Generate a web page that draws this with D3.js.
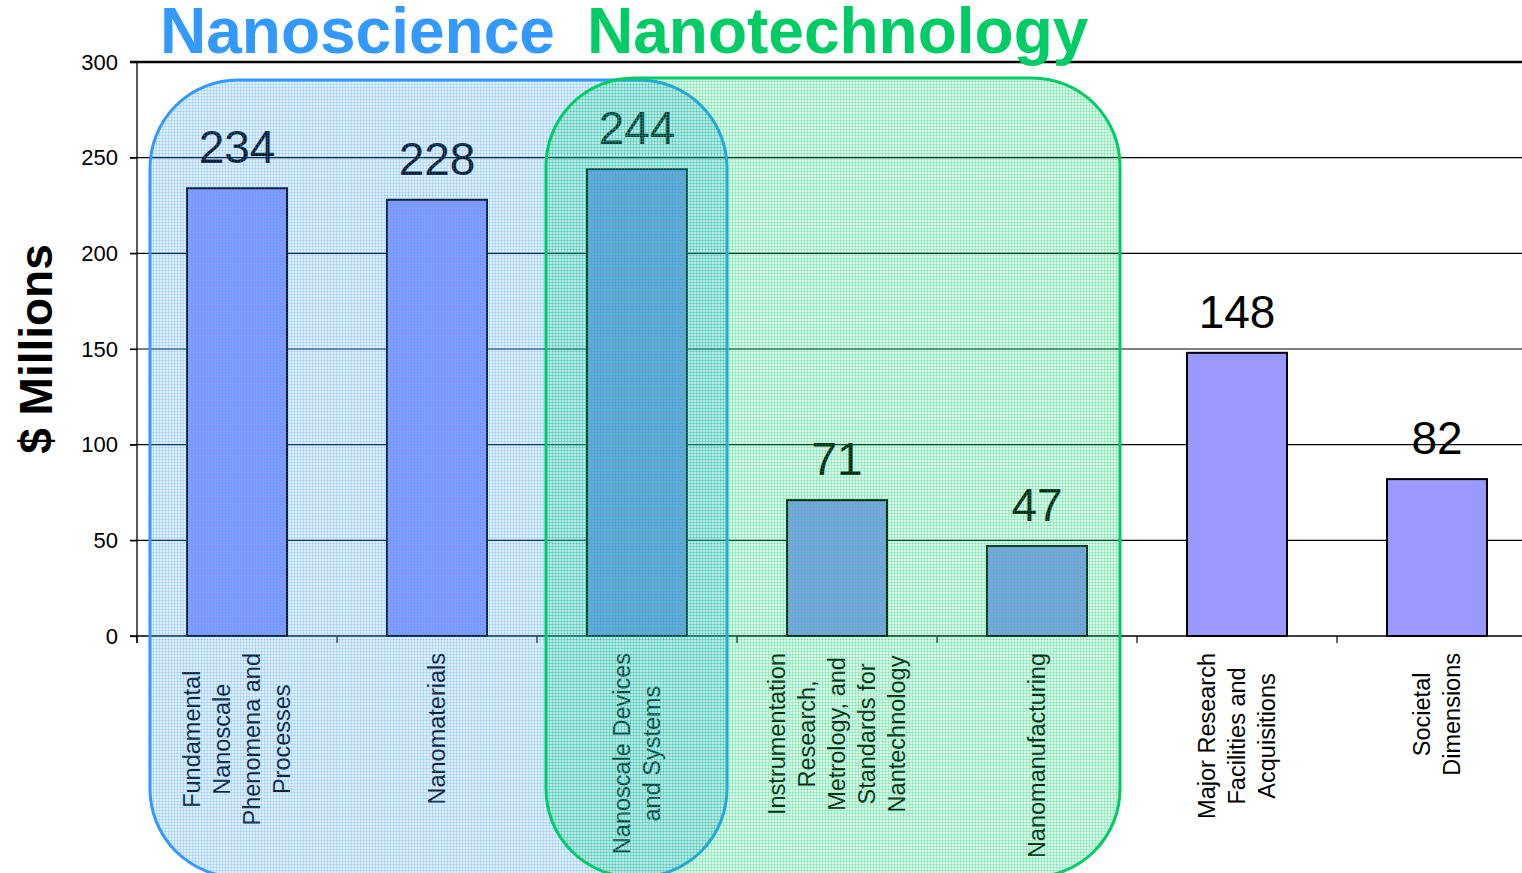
<!DOCTYPE html>
<html>
<head>
<meta charset="utf-8">
<script src="https://cdn.jsdelivr.net/npm/d3@7"></script>
<style>
  body { margin: 0; background: #fff; }
  svg { display: block; font-family: "Liberation Sans", Arial, sans-serif; }
</style>
</head>
<body>
<svg id="chart" width="1522" height="873"></svg>
<script>
// chart data
const categories = [
  "Fundamental Nanoscale Phenomena and Processes",
  "Nanomaterials",
  "Nanoscale Devices and Systems",
  "Instrumentation Research, Metrology, and Standards for Nantechnology",
  "Nanomanufacturing",
  "Major Research Facilities and Acquisitions",
  "Societal Dimensions"
];
const labelLines = [
  ["Fundamental", "Nanoscale", "Phenomena and", "Processes"],
  ["Nanomaterials"],
  ["Nanoscale Devices", "and Systems"],
  ["Instrumentation", "Research,", "Metrology, and", "Standards for", "Nantechnology"],
  ["Nanomanufacturing"],
  ["Major Research", "Facilities and", "Acquisitions"],
  ["Societal", "Dimensions"]
];
const values = [234, 228, 244, 71, 47, 148, 82];
const yTicks = [0, 50, 100, 150, 200, 250, 300];
const groupNames = ["Nanoscience", "Nanotechnology"];
const groupFrom = [0, 2];   // first category index of each group
const groupTo = [2, 4];     // last category index of each group
const groupColors = ["#3399ff", "#00cc66"];

const svg = d3.select("#chart");

// scales
const x = d3.scaleBand()
    .domain(categories)
    .range([137, 1537])
    .paddingInner(0.5)
    .paddingOuter(0.25);

const y = d3.scaleLinear()
    .domain([0, 300])
    .range([636, 62]);

const step = x.step();
const bandLeft = i => x(categories[i]) - (x.step() - x.bandwidth()) / 2;

// grid-like patterns for the group overlays
const defs = svg.append("defs");
groupColors.forEach((c, i) => {
  const p = defs.append("pattern")
      .attr("id", "hatch" + i)
      .attr("width", 3)
      .attr("height", 3)
      .attr("patternUnits", "userSpaceOnUse");
  p.append("rect").attr("width", 3).attr("height", 3)
      .attr("fill", c).attr("fill-opacity", 0.17);
  p.append("rect").attr("width", 3).attr("height", 1)
      .attr("fill", c).attr("fill-opacity", 0.2);
  p.append("rect").attr("width", 1).attr("height", 3)
      .attr("fill", c).attr("fill-opacity", 0.2);
});

// gridlines
svg.append("g")
  .selectAll("line")
  .data(yTicks.filter(d => d > 0))
  .join("line")
    .attr("x1", 130)
    .attr("x2", 1522)
    .attr("y1", d => y(d))
    .attr("y2", d => y(d))
    .attr("stroke", "#000")
    .attr("stroke-width", d => d === 300 ? 2.5 : 1.2);

// y axis
const yAxis = svg.append("g")
    .attr("transform", "translate(137,0)")
    .call(d3.axisLeft(y).tickValues(yTicks).tickSize(7).tickPadding(12));
yAxis.select(".domain").attr("d", "M0,62V643").attr("stroke-width", 1.3);
yAxis.selectAll(".tick line").attr("stroke-width", 1.2);
yAxis.selectAll("text")
    .style("font-size", "22px")
    .style("font-family", "'Liberation Sans', Arial, sans-serif")
    .attr("fill", "#000");

// x axis line and separating ticks
svg.append("line")
    .attr("x1", 130).attr("x2", 1522)
    .attr("y1", y(0)).attr("y2", y(0))
    .attr("stroke", "#000").attr("stroke-width", 1.5);

svg.append("g")
  .selectAll("line")
  .data(d3.range(categories.length + 1))
  .join("line")
    .attr("x1", i => 137 + i * step)
    .attr("x2", i => 137 + i * step)
    .attr("y1", y(0))
    .attr("y2", y(0) + 7)
    .attr("stroke", "#000")
    .attr("stroke-width", 1.2);

// bars
svg.append("g")
  .selectAll("rect")
  .data(values)
  .join("rect")
    .attr("x", (d, i) => x(categories[i]))
    .attr("y", d => y(d))
    .attr("width", x.bandwidth())
    .attr("height", d => y(0) - y(d))
    .attr("fill", "#9999ff")
    .attr("stroke", "#000")
    .attr("stroke-width", 2);

// value labels
svg.append("g")
  .selectAll("text")
  .data(values)
  .join("text")
    .attr("x", (d, i) => x(categories[i]) + x.bandwidth() / 2)
    .attr("y", d => y(d) - 25)
    .attr("text-anchor", "middle")
    .style("font-size", "46px")
    .attr("fill", "#000")
    .text(d => d);

// category labels (rotated, lines centred on each other, block top below the axis)
const labels = svg.append("g")
  .selectAll("g")
  .data(labelLines)
  .join("g");

labels.each(function(lines, i) {
  const g = d3.select(this);
  const cx = x(categories[i]) + x.bandwidth() / 2;
  const n = lines.length;
  const texts = g.selectAll("text")
    .data(lines)
    .join("text")
      .attr("x", 0)
      .attr("y", (d, j) => (j - (n - 1) / 2) * 30 + 8)
      .attr("text-anchor", "middle")
      .style("font-size", "23.5px")
      .attr("fill", "#000")
      .text(d => d);
  let maxLen = 0;
  texts.each(function() { maxLen = Math.max(maxLen, this.getComputedTextLength()); });
  g.attr("transform", `translate(${cx},${653 + maxLen / 2}) rotate(-90)`);
});

// y axis title
svg.append("text")
    .attr("transform", "translate(52,349) rotate(-90)")
    .attr("text-anchor", "middle")
    .style("font-size", "46px")
    .style("font-weight", "bold")
    .attr("fill", "#000")
    .text("$ Millions");

// group overlays
const overlayTop = [80, 78];
const overlayPadL = [13, 9];
const overlayPadR = [10, 17];
svg.append("g")
  .selectAll("rect")
  .data(groupNames)
  .join("rect")
    .attr("x", (d, i) => bandLeft(groupFrom[i]) + overlayPadL[i])
    .attr("y", (d, i) => overlayTop[i])
    .attr("width", (d, i) => bandLeft(groupTo[i]) + step - overlayPadR[i] - (bandLeft(groupFrom[i]) + overlayPadL[i]))
    .attr("height", (d, i) => 877 - overlayTop[i])
    .attr("rx", 88)
    .attr("ry", 88)
    .attr("fill", (d, i) => `url(#hatch${i})`)
    .attr("stroke", (d, i) => groupColors[i])
    .attr("stroke-width", 3);

// group titles
const titleX = [160, 587];
svg.append("g")
  .selectAll("text")
  .data(groupNames)
  .join("text")
    .attr("x", (d, i) => titleX[i])
    .attr("y", 53)
    .style("font-size", "64px")
    .style("font-weight", "bold")
    .attr("fill", (d, i) => groupColors[i])
    .text(d => d);
</script>
</body>
</html>
